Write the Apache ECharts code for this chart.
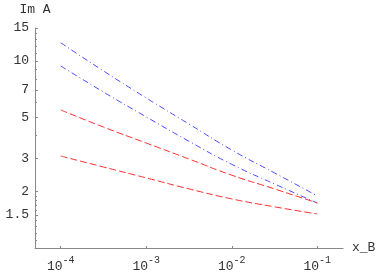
<!DOCTYPE html>
<html>
<head>
<meta charset="utf-8">
<script src="https://cdn.jsdelivr.net/npm/echarts@6/dist/echarts.min.js"></script>
<style>html,body{margin:0;padding:0;background:#fff;}#c{width:382px;height:273px;}</style>
</head>
<body>
<div id="c"></div>
<script>
var xValues = [1e-4, 3.162e-4, 1e-3, 3.162e-3, 1e-2, 3.162e-2, 1e-1];
var blueTop = [12.5, 8.84, 6.34, 4.60, 3.34, 2.52, 1.90];
var blueLow = [9.40, 6.82, 5.02, 3.72, 2.80, 2.20, 1.74];
var redTop  = [5.47, 4.43, 3.64, 2.99, 2.45, 2.07, 1.74];
var redLow  = [3.10, 2.71, 2.37, 2.07, 1.83, 1.66, 1.52];
var yMajorTicks = [1.5, 2, 3, 5, 7, 10, 15];
var yMinorTicks = [1.1, 1.2, 1.3, 1.4, 1.6, 1.7, 1.8, 1.9, 4, 6, 8, 9, 11, 12, 13, 14];
var xMajorTicks = [1e-4, 1e-3, 1e-2, 1e-1];

function pairs(ys) { return ys.map(function (y, i) { return [xValues[i], y]; }); }

var font = 'Liberation Mono';
var textColor = '#333';
var axisColor = '#888';

var chart = echarts.init(document.getElementById('c'), null, {renderer: 'canvas'});
chart.setOption({
  animation: false,
  grid: {left: 35, right: 39, top: 28, bottom: 25, containLabel: false},
  xAxis: {
    type: 'log', logBase: 10, min: 5e-5, max: 0.2,
    name: 'x_B', nameLocation: 'end', nameGap: 9,
    nameTextStyle: {fontFamily: font, fontSize: 13, color: textColor},
    axisLine: {lineStyle: {color: axisColor, width: 1}},
    axisTick: {inside: true, length: 2, customValues: xMajorTicks, lineStyle: {color: axisColor}},
    splitLine: {show: false}, minorTick: {show: false},
    axisLabel: {
      customValues: xMajorTicks, margin: 7,
      formatter: function (v) { return '{b|10}{s|' + Math.round(Math.log10(v)) + '}'; },
      rich: {
        b: {fontFamily: font, fontSize: 13, color: textColor, verticalAlign: 'bottom'},
        s: {fontFamily: font, fontSize: 10, color: textColor, verticalAlign: 'top', padding: [0, 0, 8, 0]}
      }
    }
  },
  yAxis: [{
    type: 'log', logBase: 10, min: 1, max: 15,
    name: 'Im A', nameLocation: 'end', nameGap: 12,
    nameTextStyle: {fontFamily: font, fontSize: 13, color: textColor},
    axisLine: {show: true, lineStyle: {color: axisColor, width: 1}},
    axisTick: {inside: true, length: 3, customValues: yMajorTicks, lineStyle: {color: axisColor}},
    splitLine: {show: false}, minorTick: {show: false},
    axisLabel: {customValues: yMajorTicks, margin: 6, fontFamily: font, fontSize: 13, color: textColor,
      formatter: function (v) { return String(v); }}
  }, {
    type: 'log', logBase: 10, min: 1, max: 15, position: 'left',
    axisLine: {show: false},
    axisTick: {show: true, inside: true, length: 2, customValues: yMinorTicks, lineStyle: {color: axisColor}},
    axisLabel: {show: false}, splitLine: {show: false}
  }],
  series: [
    {type: 'line', data: pairs(blueTop), smooth: true, showSymbol: false, lineStyle: {color: '#4a4aff', width: 1, type: [6, 3, 1, 3]}},
    {type: 'line', data: pairs(blueLow), smooth: true, showSymbol: false, lineStyle: {color: '#4a4aff', width: 1, type: [6, 3, 1, 3]}},
    {type: 'line', data: pairs(redTop), smooth: true, showSymbol: false, lineStyle: {color: '#ff3030', width: 1, type: [7, 3]}},
    {type: 'line', data: pairs(redLow), smooth: true, showSymbol: false, lineStyle: {color: '#ff3030', width: 1, type: [7, 3]}}
  ]
});
</script>
</body>
</html>
